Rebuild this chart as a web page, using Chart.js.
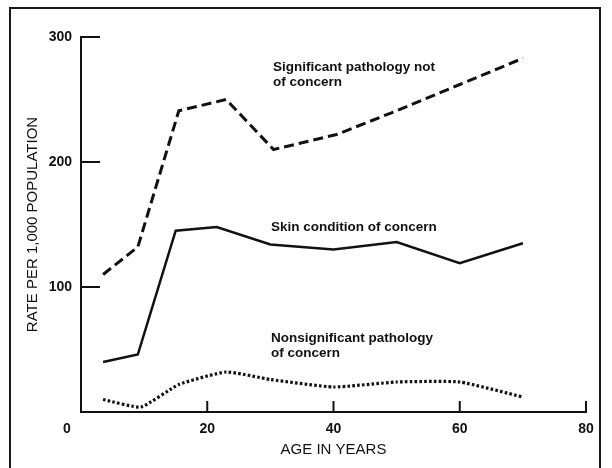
<!DOCTYPE html>
<html>
<head>
<meta charset="utf-8">
<script src="https://cdn.jsdelivr.net/npm/chart.js@4.4.1/dist/chart.umd.min.js"></script>
<style>
  html, body { margin: 0; padding: 0; background: #fff; }
  #wrap { position: relative; width: 612px; height: 468px; overflow: hidden; }
  #frame {
    position: absolute; left: 9px; top: 7px; width: 588px; height: 480px;
    border: 2px solid #1a1a1a; border-bottom: none;
  }
  canvas { position: absolute; left: 0; top: 0; }
</style>
</head>
<body>
<div id="wrap">
  <div id="frame"></div>
  <canvas id="chart" width="612" height="468"></canvas>
</div>
<script>
// --- data ---
const ageTicks = [0, 20, 40, 60, 80];
const rateTicks = [100, 200, 300];

const sigNotConcernAges  = [3.5, 9, 15.5, 23, 30.5, 40.5, 50, 60, 70];
const sigNotConcernRates = [110, 132, 241, 250, 210, 222, 241, 262, 283];

const skinConcernAges  = [3.5, 9, 15, 21.5, 30, 40, 50, 60, 70];
const skinConcernRates = [40, 46, 145, 148, 134, 130, 136, 119, 135];

const nonsigConcernAges  = [3.5, 9.5, 15.5, 23, 30, 40, 50, 60, 70];
const nonsigConcernRates = [10, 4, 22, 32, 26, 20, 24, 24, 12];

const INK = '#111';
const FONT = '"Liberation Sans", Arial, sans-serif';

function toPoints(xs, ys) {
    return xs.map((x, i) => ({ x: x, y: ys[i] }));
}

// ticks drawn inward, labels on the plot, and the shared origin "0"
const figureDecor = {
    id: 'figureDecor',
    afterDraw(chart, args, opts) {
        const { ctx, scales: { x, y } } = chart;
        ctx.save();
        ctx.strokeStyle = INK;
        ctx.lineWidth = 2;
        rateTicks.forEach(v => {
            const py = y.getPixelForValue(v);
            ctx.beginPath();
            ctx.moveTo(x.left, py);
            ctx.lineTo(x.left + 19, py);
            ctx.stroke();
        });
        ageTicks.slice(1).forEach(v => {
            const px = x.getPixelForValue(v);
            ctx.beginPath();
            ctx.moveTo(px, y.bottom);
            ctx.lineTo(px, y.bottom - 11);
            ctx.stroke();
        });

        ctx.fillStyle = INK;
        ctx.font = 'bold 14px ' + FONT;
        ctx.textAlign = 'center';
        ctx.textBaseline = 'middle';
        ctx.fillText('0', x.getPixelForValue(0) - 14, y.bottom + 17);

        ctx.font = opts.font;
        ctx.textAlign = 'left';
        opts.labels.forEach(lab => {
            const px = x.getPixelForValue(lab.age);
            const py = y.getPixelForValue(lab.rate);
            lab.lines.forEach((t, i) => ctx.fillText(t, px, py + i * 15));
        });
        ctx.restore();
    }
};

new Chart(document.getElementById('chart'), {
    type: 'line',
    data: {
        datasets: [
            {
                label: 'Significant pathology not of concern',
                data: toPoints(sigNotConcernAges, sigNotConcernRates),
                borderColor: INK, borderWidth: 3, borderDash: [10, 5],
                pointRadius: 0, tension: 0, fill: false
            },
            {
                label: 'Skin condition of concern',
                data: toPoints(skinConcernAges, skinConcernRates),
                borderColor: INK, borderWidth: 2.5,
                pointRadius: 0, tension: 0, fill: false
            },
            {
                label: 'Nonsignificant pathology of concern',
                data: toPoints(nonsigConcernAges, nonsigConcernRates),
                borderColor: INK, borderWidth: 3.2, borderDash: [2.6, 2.2],
                pointRadius: 0, tension: 0.15, fill: false
            }
        ]
    },
    options: {
        responsive: false,
        animation: false,
        events: [],
        layout: { padding: { left: 0, top: 37, right: 26, bottom: 0 } },
        plugins: {
            legend: { display: false },
            tooltip: { enabled: false },
            figureDecor: {
                font: 'bold 13.5px ' + FONT,
                labels: [
                    { age: 30.4, rate: 276, lines: ['Significant pathology not', 'of concern'] },
                    { age: 30.1, rate: 148, lines: ['Skin condition of concern'] },
                    { age: 30.1, rate: 59, lines: ['Nonsignificant pathology', 'of concern'] }
                ]
            }
        },
        scales: {
            x: {
                type: 'linear', min: 0, max: 80,
                afterBuildTicks: s => { s.ticks = ageTicks.map(v => ({ value: v })); },
                afterFit: s => { s.height = 56; },
                grid: { display: false, drawTicks: false },
                border: { display: true, color: INK, width: 2 },
                ticks: {
                    padding: 9, color: INK, font: { family: FONT, size: 14, weight: 'bold' },
                    maxRotation: 0,
                    callback: v => (v === 0 ? '' : String(v))
                },
                title: {
                    display: true, text: 'AGE IN YEARS', color: INK,
                    font: { family: FONT, size: 15 },
                    padding: { top: 0, bottom: 9 }
                }
            },
            y: {
                min: 0, max: 300,
                afterBuildTicks: s => { s.ticks = rateTicks.map(v => ({ value: v })); },
                afterFit: s => { s.width = 81; },
                grid: { display: false, drawTicks: false },
                border: { display: true, color: INK, width: 2 },
                ticks: {
                    padding: 9, color: INK, font: { family: FONT, size: 14, weight: 'bold' }
                },
                title: {
                    display: true, text: 'RATE PER 1,000 POPULATION', color: INK,
                    font: { family: FONT, size: 15 },
                    padding: { top: 24, bottom: 0 }
                }
            }
        }
    },
    plugins: [figureDecor]
});
</script>
</body>
</html>
